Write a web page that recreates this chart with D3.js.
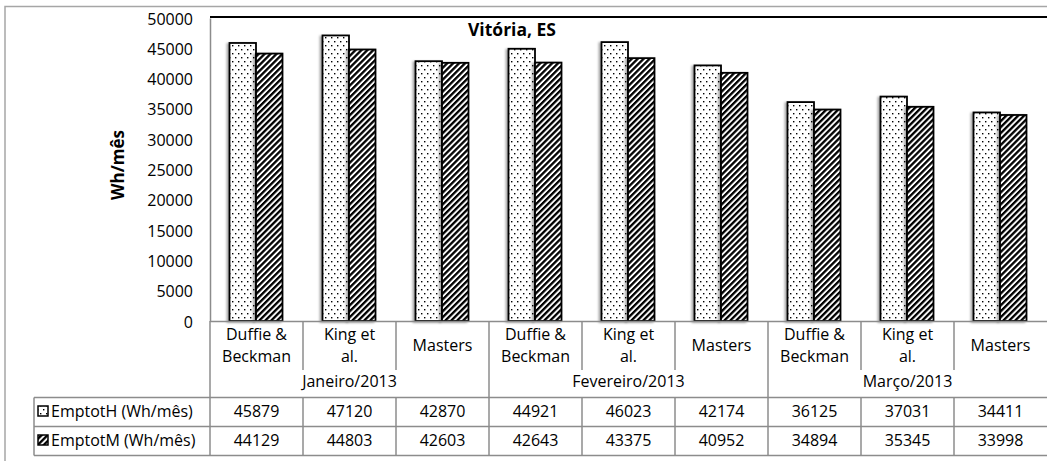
<!DOCTYPE html>
<html>
<head>
<meta charset="utf-8">
<script src="https://cdn.jsdelivr.net/npm/d3@7"></script>
<style>
  body { margin: 0; background: #fff; }
  svg text { font-family: "Open Sans", Lato, sans-serif; fill: #000; }
</style>
</head>
<body>
<svg id="chart" width="1047" height="461"></svg>
<script>
// data
const methods = ["Duffie & Beckman", "King et al.", "Masters"];
const months = ["Janeiro/2013", "Fevereiro/2013", "Março/2013"];
const emptotH = [45879, 47120, 42870, 44921, 46023, 42174, 36125, 37031, 34411];
const emptotM = [44129, 44803, 42603, 42643, 43375, 40952, 34894, 35345, 33998];
const seriesNames = ["EmptotH (Wh/mês)", "EmptotM (Wh/mês)"];
const yTicks = [0, 5000, 10000, 15000, 20000, 25000, 30000, 35000, 40000, 45000, 50000];

const svg = d3.select("#chart");
const margin = {top: 18, left: 210, bottom: 140, right: 0};
const W = +svg.attr("width"), H = +svg.attr("height");
const plotBottom = H - margin.bottom;  // 321
const gridCol = "#8c8c8c";
const fs = 16;

const cats = d3.range(months.length * methods.length);
const rows = cats.map(i => ({
  i,
  method: methods[i % methods.length],
  month: months[Math.floor(i / methods.length)],
  H: emptotH[i],
  M: emptotM[i]
}));

const x = d3.scaleBand().domain(cats).range([margin.left, W]).padding(0);
const x1 = d3.scaleBand().domain(["H", "M"]).range([19.5, 72.5]).padding(0);
const y = d3.scaleLinear().domain([0, 50000]).range([plotBottom, margin.top]);

// patterns
const defs = svg.append("defs");
const dots = defs.append("pattern").attr("id", "dots")
  .attr("patternUnits", "userSpaceOnUse").attr("width", 6).attr("height", 8);
dots.append("rect").attr("width", 6).attr("height", 8).attr("fill", "#fff");
dots.append("rect").attr("x", 1).attr("y", 1).attr("width", 1.4).attr("height", 1.4).attr("fill", "#000");
dots.append("rect").attr("x", 4).attr("y", 5).attr("width", 1.4).attr("height", 1.4).attr("fill", "#000");

const hatch = defs.append("pattern").attr("id", "hatch")
  .attr("patternUnits", "userSpaceOnUse").attr("width", 4.2).attr("height", 4.2)
  .attr("patternTransform", "rotate(45)");
hatch.append("rect").attr("width", 4.2).attr("height", 4.2).attr("fill", "#fff");
hatch.append("rect").attr("width", 2.3).attr("height", 4.2).attr("fill", "#000");

const shadow = defs.append("filter").attr("id", "shadow")
  .attr("x", "-30%").attr("y", "-5%").attr("width", "160%").attr("height", "110%");
shadow.append("feDropShadow").attr("dx", -2).attr("dy", 1)
  .attr("stdDeviation", 1.2).attr("flood-color", "#000").attr("flood-opacity", 0.35);

const fills = {H: "url(#dots)", M: "url(#hatch)"};

// outer chart border
svg.append("path")
  .attr("d", `M5,${H + 5}V6.5H${W + 5}`)
  .attr("fill", "none").attr("stroke", "#a6a6a6").attr("stroke-width", 1.5);

// plot frame top
svg.append("line")
  .attr("x1", margin.left).attr("x2", W)
  .attr("y1", 17).attr("y2", 17)
  .attr("stroke", "#000").attr("stroke-width", 2);

// bars
const groups = svg.append("g").selectAll("g.cat")
  .data(rows).join("g")
  .attr("class", "cat")
  .attr("transform", d => `translate(${x(d.i)},0)`);

groups.selectAll("rect")
  .data(d => ["H", "M"].map(k => ({k, v: d[k]})))
  .join("rect")
  .attr("x", d => x1(d.k))
  .attr("y", d => y(d.v))
  .attr("width", x1.bandwidth())
  .attr("height", d => plotBottom - y(d.v))
  .attr("fill", d => fills[d.k])
  .attr("stroke", "#000")
  .attr("stroke-width", 1.8)
  .attr("filter", "url(#shadow)");

// y axis
const yAxis = svg.append("g")
  .attr("transform", `translate(${margin.left},0)`)
  .call(d3.axisLeft(y).tickValues(yTicks).tickSize(0).tickPadding(17).tickFormat(d3.format("d")));
yAxis.select(".domain").attr("stroke", gridCol).attr("stroke-width", 1.5);
yAxis.selectAll("text").attr("font-size", fs).attr("dy", "0.38em")
  .style("font-family", "'Open Sans', sans-serif");

// x axis baseline
svg.append("line")
  .attr("x1", margin.left).attr("x2", W)
  .attr("y1", plotBottom + 0.5).attr("y2", plotBottom + 0.5)
  .attr("stroke", gridCol).attr("stroke-width", 1.5);

// title
svg.append("text")
  .attr("x", 512).attr("y", 36)
  .attr("text-anchor", "middle")
  .attr("font-size", 17.5).attr("font-weight", "bold")
  .text("Vitória, ES");

// y title
svg.append("text")
  .attr("transform", `translate(124,165) rotate(-90)`)
  .attr("text-anchor", "middle")
  .attr("font-size", 17).attr("font-weight", "bold")
  .text("Wh/mês");

// category table
const tbl = svg.append("g");
const rowLines = [397.5, 426.5, 455.5];
const tableLeft = 34;

// vertical separators
cats.forEach(i => {
  const xx = x(i);
  const full = i % methods.length === 0;
  tbl.append("line")
    .attr("x1", xx).attr("x2", xx)
    .attr("y1", plotBottom).attr("y2", full ? rowLines[2] : 370)
    .attr("stroke", gridCol).attr("stroke-width", 1.5);
  if (!full) {
    tbl.append("line")
      .attr("x1", xx).attr("x2", xx)
      .attr("y1", rowLines[0]).attr("y2", rowLines[2])
      .attr("stroke", gridCol).attr("stroke-width", 1.5);
  }
});
// legend cell left border
tbl.append("line")
  .attr("x1", tableLeft).attr("x2", tableLeft)
  .attr("y1", rowLines[0]).attr("y2", rowLines[2])
  .attr("stroke", gridCol).attr("stroke-width", 1.5);
// horizontal rules
rowLines.forEach(yy => {
  tbl.append("line")
    .attr("x1", tableLeft).attr("x2", W)
    .attr("y1", yy).attr("y2", yy)
    .attr("stroke", gridCol).attr("stroke-width", 1.5);
});

// method labels
tbl.selectAll("text.method")
  .data(rows).join("text")
  .attr("class", "method")
  .attr("text-anchor", "middle")
  .attr("font-size", fs)
  .each(function(d) {
    const cx = x(d.i) + x.bandwidth() / 2;
    const t = d3.select(this);
    let lines;
    if (d.method === "Duffie & Beckman") lines = ["Duffie &", "Beckman"];
    else if (d.method === "King et al.") lines = ["King et", "al."];
    else lines = [d.method];
    const y0 = lines.length === 1 ? 351 : 340;
    lines.forEach((s, j) => {
      t.append("tspan").attr("x", cx).attr("y", y0 + j * 22).text(s);
    });
  });

// month labels
tbl.selectAll("text.month")
  .data(months).join("text")
  .attr("class", "month")
  .attr("x", (d, j) => x(j * methods.length) + x.bandwidth() * methods.length / 2)
  .attr("y", 387)
  .attr("text-anchor", "middle")
  .attr("font-size", fs)
  .text(d => d);

// value rows
[emptotH, emptotM].forEach((vals, r) => {
  tbl.selectAll(`text.val${r}`)
    .data(vals).join("text")
    .attr("class", `val${r}`)
    .attr("x", (d, i) => x(i) + x.bandwidth() / 2)
    .attr("y", 417 + r * 29)
    .attr("text-anchor", "middle")
    .attr("font-size", fs)
    .text(d => d);
});

// legend keys in the table
seriesNames.forEach((name, r) => {
  const yy = 406 + r * 29;
  tbl.append("rect")
    .attr("x", 38).attr("y", yy)
    .attr("width", 10).attr("height", 10)
    .attr("fill", r === 0 ? fills.H : fills.M)
    .attr("stroke", "#000").attr("stroke-width", 1.5);
  tbl.append("text")
    .attr("x", 51).attr("y", 417 + r * 29)
    .attr("font-size", fs)
    .text(name);
});
</script>
</body>
</html>
